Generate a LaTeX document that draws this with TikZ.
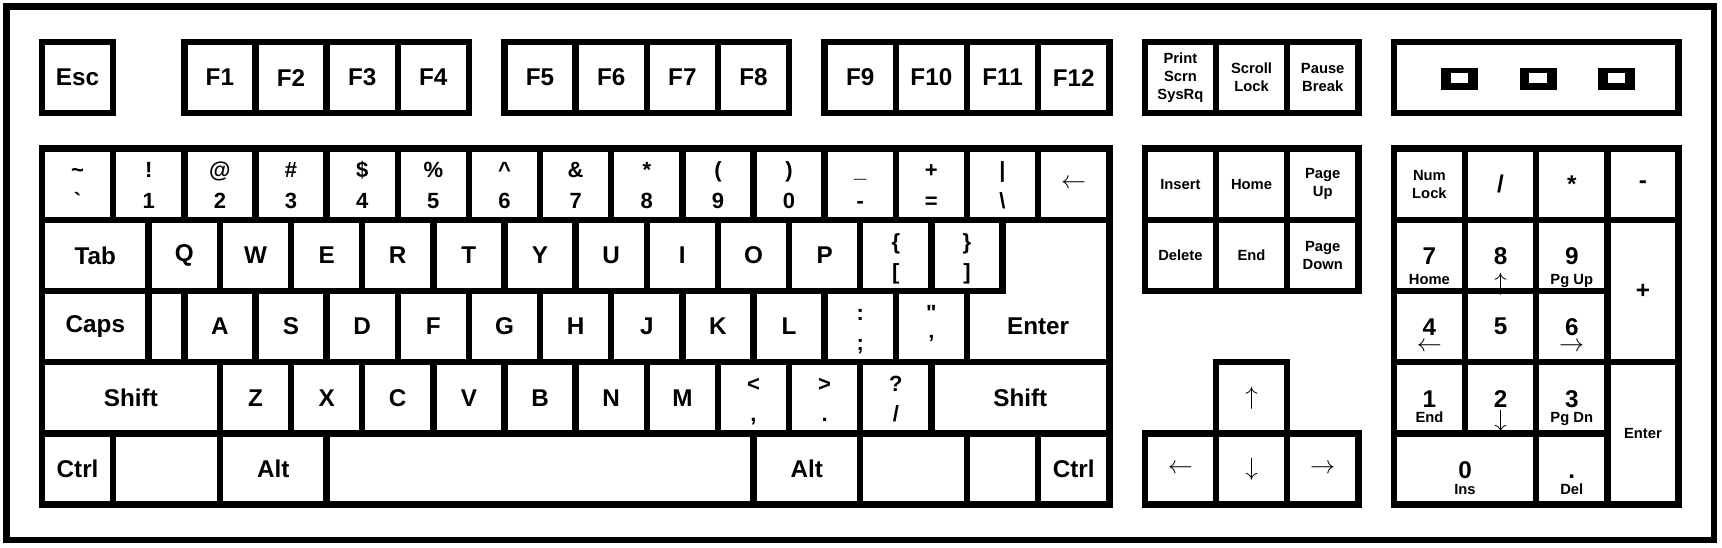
\documentclass[tikz,border=0pt]{standalone}
\usepackage{fontspec}
\setmainfont{Liberation Sans}
\newcommand{\kbtwo}[2]{\strut#1\\\strut#2}
\newcommand{\kbarrow}[1]{{\fontsize{10}{11}\selectfont$#1$}}
% one key: style, name, x, y, width, label
\newcommand{\kbkey}[6][keylabel]{%
  \draw[keyline] (#3,#4) rectangle ++(#5,1);
  \node[#1] (#2) at ({#3+#5/2},{#4+0.5}) {#6};}
\newcommand{\kbblank}[3]{\draw[keyline] (#1,#2) rectangle ++(#3,1);}
% numpad key: height of second label, name, x, y, width, digit, second label
\newcommand{\kbnum}[7][0.78]{%
  \draw[keyline] (#3,#4) rectangle ++(#5,1);
  \node[numdigit] (#2) at ({#3+#5/2},{#4+0.63}) {#6};
  \node[numsub] (#2sub) at ({#3+#5/2},{#4+#1}) {#7};}

\begin{document}
\begin{tikzpicture}[x=1cm, y=-1cm, line join=miter,
  keyline/.style={line width=2.6pt},
  keylabel/.style={font=\fontsize{9.7}{11}\selectfont\bfseries},
  twolabel/.style={align=center, yshift=-1.1pt, font=\fontsize{8.8}{12.2}\selectfont\bfseries},
  smalllabel/.style={align=center, font=\fontsize{5.9}{7.3}\selectfont\bfseries},
  arrowlabel/.style={font=\fontsize{10}{11}\selectfont},
  numdigit/.style={keylabel, anchor=base, inner sep=0pt},
  numsub/.style={font=\fontsize{5.9}{7}\selectfont\bfseries, text height=4.2pt, text depth=0pt, inner sep=0pt}]
	\fill[white] (-0.5903,-0.5903) rectangle (23.6122,7.0977);
	\draw[line width=2.7pt] (-0.5,-0.5) rectangle (23.5,7.0);

	% function row
	\kbkey{esc}{0}{0}{1}{Esc}
	\foreach \i in {1,...,4} {\kbkey{f\i}{\i+1}{0}{1}{F\i}}
	\foreach \i in {5,...,8} {\kbkey{f\i}{\i+1.5}{0}{1}{F\i}}
	\foreach \i in {9,...,12} {\kbkey{f\i}{\i+2}{0}{1}{F\i}}
	\kbkey[smalllabel]{print}{15.5}{0}{1}{Print\\Scrn\\SysRq}
	\kbkey[smalllabel]{scroll}{16.5}{0}{1}{Scroll\\Lock}
	\kbkey[smalllabel]{pause}{17.5}{0}{1}{Pause\\Break}
	\draw[keyline] (19,0) rectangle (23,1);
	\foreach \c in {19.92,21.03,22.13} {
		\fill (\c-0.26,0.361) rectangle (\c+0.26,0.675);
		\fill[white] (\c-0.124,0.44) rectangle (\c+0.124,0.581);
	}

	% number row
	\foreach \x/\t/\b in {0/\textasciitilde/\textasciigrave, 1/!/1, 2/@/2, 3/\#/3, 4/\$/4, 5/\%/5, 6/\textasciicircum/6,
		7/\&/7, 8/*/8, 9/{(}/9, 10/{)}/0, 11/\_/-, 12/+/=, 13/|/\textbackslash}
		{\kbkey[twolabel]{num\x}{\x}{1.5}{1}{\kbtwo{\t}{\b}}}
	\kbkey[arrowlabel]{bksp}{14}{1.5}{1}{$\leftarrow$}

	% upper letter row
	\kbkey{tab}{0}{2.5}{1.5}{Tab}
	\foreach \l [count=\i from 0] in {Q,W,E,R,T,Y,U,I,O,P} {\kbkey{k\l}{1.5+\i}{2.5}{1}{\l}}
	\kbkey[twolabel]{lbrack}{11.5}{2.5}{1}{\kbtwo{\{}{[}}
	\kbkey[twolabel]{rbrack}{12.5}{2.5}{1}{\kbtwo{\}}{]}}
	\draw[keyline] (13.5,2.5) -- (15,2.5) -- (15,4.5) -- (13,4.5) -- (13,3.5) -- (13.5,3.5) -- cycle;
	\node[keylabel] (enter) at (14,4) {Enter};

	% home row
	\kbkey{caps}{0}{3.5}{1.5}{Caps}
	\kbblank{1.5}{3.5}{0.5}
	\foreach \l [count=\i from 0] in {A,S,D,F,G,H,J,K,L} {\kbkey{k\l}{2+\i}{3.5}{1}{\l}}
	\kbkey[twolabel]{semi}{11}{3.5}{1}{\kbtwo{:}{;}}
	\kbkey[twolabel]{quote}{12}{3.5}{1}{\kbtwo{\textquotedbl}{'}}

	% lower letter row
	\kbkey{lshift}{0}{4.5}{2.5}{Shift}
	\foreach \l [count=\i from 0] in {Z,X,C,V,B,N,M} {\kbkey{k\l}{2.5+\i}{4.5}{1}{\l}}
	\kbkey[twolabel]{comma}{9.5}{4.5}{1}{\kbtwo{<}{,}}
	\kbkey[twolabel]{period}{10.5}{4.5}{1}{\kbtwo{>}{.}}
	\kbkey[twolabel]{slash}{11.5}{4.5}{1}{\kbtwo{?}{/}}
	\kbkey{rshift}{12.5}{4.5}{2.5}{Shift}

	% bottom row
	\kbkey{lctrl}{0}{5.5}{1}{Ctrl}
	\kbblank{1}{5.5}{1.5}
	\kbkey{lalt}{2.5}{5.5}{1.5}{Alt}
	\kbblank{4}{5.5}{6}
	\kbkey{ralt}{10}{5.5}{1.5}{Alt}
	\kbblank{11.5}{5.5}{1.5}
	\kbblank{13}{5.5}{1}
	\kbkey{rctrl}{14}{5.5}{1}{Ctrl}

	% editing block and arrows
	\kbkey[smalllabel]{ins}{15.5}{1.5}{1}{Insert}
	\kbkey[smalllabel]{home}{16.5}{1.5}{1}{Home}
	\kbkey[smalllabel]{pgup}{17.5}{1.5}{1}{Page\\Up}
	\kbkey[smalllabel]{del}{15.5}{2.5}{1}{Delete}
	\kbkey[smalllabel]{end}{16.5}{2.5}{1}{End}
	\kbkey[smalllabel]{pgdn}{17.5}{2.5}{1}{Page\\Down}
	\kbkey[arrowlabel]{up}{16.5}{4.5}{1}{$\uparrow$}
	\kbkey[arrowlabel]{left}{15.5}{5.5}{1}{$\leftarrow$}
	\kbkey[arrowlabel]{down}{16.5}{5.5}{1}{$\downarrow$}
	\kbkey[arrowlabel]{right}{17.5}{5.5}{1}{$\rightarrow$}

	% numeric keypad
	\kbkey[smalllabel]{numlock}{19}{1.5}{1}{Num\\Lock}
	\kbkey{div}{20}{1.5}{1}{/}
	\kbkey{mul}{21}{1.5}{1}{*}
	\kbkey{sub}{22}{1.5}{1}{-}
	\kbnum[0.84]{n7}{19}{2.5}{1}{7}{Home}
	\kbnum[0.92]{n8}{20}{2.5}{1}{8}{\kbarrow{\uparrow}}
	\kbnum[0.84]{n9}{21}{2.5}{1}{9}{Pg Up}
	\draw[keyline] (22,2.5) rectangle (23,4.5);
	\node[keylabel] (add) at (22.5,3.5) {+};
	\kbnum{n4}{19}{3.5}{1}{4}{\kbarrow{\leftarrow}}
	\kbkey{n5}{20}{3.5}{1}{5}
	\kbnum{n6}{21}{3.5}{1}{6}{\kbarrow{\rightarrow}}
	\kbnum{n1}{19}{4.5}{1}{1}{End}
	\kbnum[0.84]{n2}{20}{4.5}{1}{2}{\kbarrow{\downarrow}}
	\kbnum{n3}{21}{4.5}{1}{3}{Pg Dn}
	\draw[keyline] (22,4.5) rectangle (23,6.5);
	\node[smalllabel] (numenter) at (22.5,5.5) {Enter};
	\kbnum{n0}{19}{5.5}{2}{0}{Ins}
	\kbnum{ndot}{21}{5.5}{1}{.}{Del}
\end{tikzpicture}
\end{document}
